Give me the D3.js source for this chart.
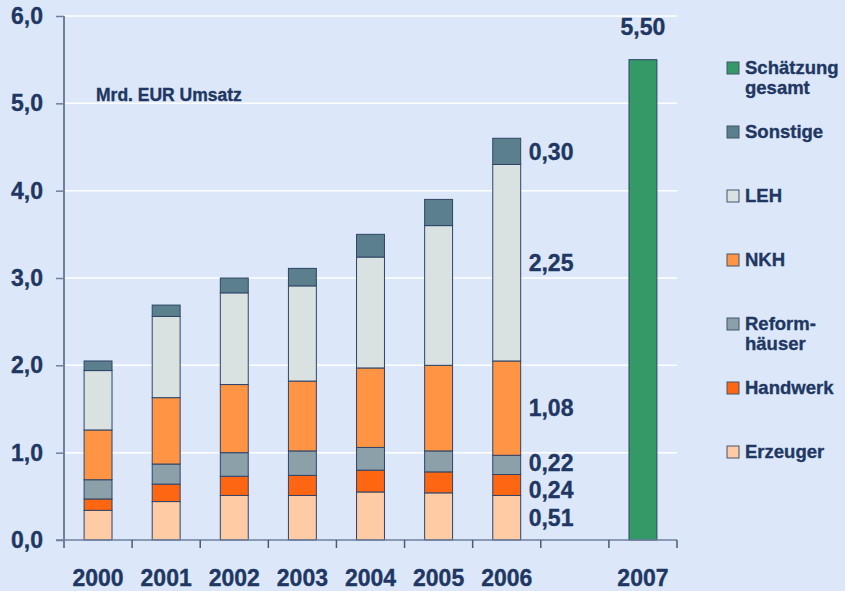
<!DOCTYPE html>
<html>
<head>
<meta charset="utf-8">
<script src="https://cdn.jsdelivr.net/npm/d3@7"></script>
<style>
  html, body { margin: 0; padding: 0; background: #dce8fa; }
  svg { display: block; }
  text { font-family: "Liberation Sans", Arial, sans-serif; font-weight: bold; fill: #1f3762; stroke: #1f3762; stroke-width: 0.35px; }
</style>
</head>
<body>
<svg id="chart" width="845" height="591"></svg>
<script>
// ---- data ----
const years = ["2000", "2001", "2002", "2003", "2004", "2005", "2006"];
const categories = ["2000", "2001", "2002", "2003", "2004", "2005", "2006", "", "2007"];
const seriesNames = ["Erzeuger", "Handwerk", "Reform-\nhäuser", "NKH", "LEH", "Sonstige"];
const erzeuger  = [0.34, 0.44, 0.51, 0.51, 0.55, 0.54, 0.51];
const handwerk  = [0.13, 0.20, 0.22, 0.23, 0.25, 0.24, 0.24];
const reform    = [0.22, 0.23, 0.27, 0.28, 0.26, 0.24, 0.22];
const nkh       = [0.57, 0.76, 0.78, 0.80, 0.91, 0.98, 1.08];
const leh       = [0.68, 0.93, 1.05, 1.09, 1.27, 1.60, 2.25];
const sonstige  = [0.11, 0.13, 0.17, 0.20, 0.26, 0.30, 0.30];
const estimateYear = "2007";
const estimateValue = 5.50;
const estimateName = "Schätzung\ngesamt";
const yTicks = [0, 1, 2, 3, 4, 5, 6];
const unitLabel = "Mrd. EUR Umsatz";
const labelledYear = "2006";

const colors = ["#ffcba4", "#ff6612", "#8ca0aa", "#ff9445", "#d9e2e1", "#5b7f8c"];
const estimateColor = "#339966";

// ---- layout ----
const svg = d3.select("#chart");
const plotLeft = 64, plotRight = 677, plotTop = 16, plotBottom = 540;

const x = d3.scaleBand().domain(categories.map((c, i) => i)).range([plotLeft, plotRight]).padding(0);
const y = d3.scaleLinear().domain([0, 6]).range([plotBottom, plotTop]);
const barFrac = 0.41;
const bw = x.bandwidth() * barFrac;
const bx = i => x(i) + (x.bandwidth() - bw) / 2;

// gridlines
svg.append("g").selectAll("line").data(yTicks.filter(d => d > 0)).join("line")
  .attr("x1", plotLeft).attr("x2", plotRight)
  .attr("y1", d => y(d)).attr("y2", d => y(d))
  .attr("stroke", "#ffffff").attr("stroke-width", 1.5);

// stacked data
const seriesArrays = [erzeuger, handwerk, reform, nkh, leh, sonstige];
const rows = years.map((yr, i) => {
  const o = { year: yr, idx: i };
  seriesArrays.forEach((arr, k) => o["s" + k] = arr[i]);
  return o;
});
const stack = d3.stack().keys(seriesArrays.map((_, k) => "s" + k));
const stacked = stack(rows);

const barG = svg.append("g");
stacked.forEach((layer, k) => {
  barG.append("g").selectAll("rect").data(layer).join("rect")
    .attr("x", d => bx(d.data.idx))
    .attr("width", bw)
    .attr("y", d => y(d[1]))
    .attr("height", d => y(d[0]) - y(d[1]))
    .attr("fill", colors[k])
    .attr("stroke", "#2f4468").attr("stroke-width", 1);
});

// estimate bar
const estIdx = categories.indexOf(estimateYear);
barG.append("rect")
  .attr("x", bx(estIdx)).attr("width", bw)
  .attr("y", y(estimateValue)).attr("height", y(0) - y(estimateValue))
  .attr("fill", estimateColor).attr("stroke", "#2f4468").attr("stroke-width", 1);

svg.append("text")
  .attr("x", bx(estIdx) + bw / 2).attr("y", y(estimateValue) - 25)
  .attr("text-anchor", "middle").attr("font-size", 23)
  .text(estimateValue.toFixed(2).replace(".", ","));

// segment labels for 2006 (small nudges keep the two thin segments' labels apart)
const li = years.indexOf(labelledYear);
const nudge = [0, 5, -2, 0, 0, 0];
stacked.forEach((layer, k) => {
  const d = layer[li];
  svg.append("text")
    .attr("x", bx(li) + bw + 8)
    .attr("y", y((d[0] + d[1]) / 2) + nudge[k])
    .attr("dy", "0.36em")
    .attr("font-size", 23)
    .text(seriesArrays[k][li].toFixed(2).replace(".", ","));
});

// y axis
const yAxis = d3.axisLeft(y).tickValues(yTicks).tickSize(8).tickPadding(13)
  .tickFormat(d => d.toFixed(1).replace(".", ","));
const yg = svg.append("g").attr("transform", `translate(${plotLeft},0)`).call(yAxis);
yg.select(".domain").remove();
yg.selectAll(".tick line").attr("stroke", "#6f7f9c").attr("stroke-width", 1.5);
yg.selectAll(".tick text").attr("font-size", 23).attr("fill", "#1f3762")
  .attr("font-family", "Liberation Sans, Arial, sans-serif").attr("font-weight", "bold");

// axis lines
svg.append("line").attr("x1", plotLeft).attr("x2", plotLeft)
  .attr("y1", y(6)).attr("y2", plotBottom + 8)
  .attr("stroke", "#6f7f9c").attr("stroke-width", 2);
svg.append("line").attr("x1", plotLeft - 8).attr("x2", plotRight)
  .attr("y1", plotBottom).attr("y2", plotBottom)
  .attr("stroke", "#6f7f9c").attr("stroke-width", 1.5);

// x ticks at band boundaries
const bounds = categories.map((c, i) => x(i)).concat([plotRight]).slice(1);
svg.append("g").selectAll("line").data(bounds).join("line")
  .attr("x1", d => d).attr("x2", d => d)
  .attr("y1", plotBottom).attr("y2", plotBottom + 8)
  .attr("stroke", "#4a5a78").attr("stroke-width", 1.5);

// x labels
svg.append("g").selectAll("text").data(categories.map((c, i) => ({ c, i })).filter(d => d.c !== "")).join("text")
  .attr("x", d => x(d.i) + x.bandwidth() / 2)
  .attr("y", 586)
  .attr("text-anchor", "middle").attr("font-size", 23)
  .text(d => d.c);

// unit label
svg.append("text").attr("x", 96).attr("y", 101).attr("font-size", 17.5).text(unitLabel);

// legend
const legendItems = [{ name: estimateName, color: estimateColor }]
  .concat(seriesNames.map((n, k) => ({ name: n, color: colors[k] })).reverse());
const lg = svg.append("g");
legendItems.forEach((it, i) => {
  const cy = 68 + i * 64;
  lg.append("rect").attr("x", 727).attr("y", cy - 6).attr("width", 12).attr("height", 12)
    .attr("fill", it.color).attr("stroke", "#44546a").attr("stroke-width", 1);
  const t = lg.append("text").attr("x", 745).attr("y", cy + 6).attr("font-size", 18.5);
  it.name.split("\n").forEach((line, j) => {
    t.append("tspan").attr("x", 745).attr("dy", j === 0 ? 0 : 20).text(line);
  });
});
</script>
</body>
</html>
